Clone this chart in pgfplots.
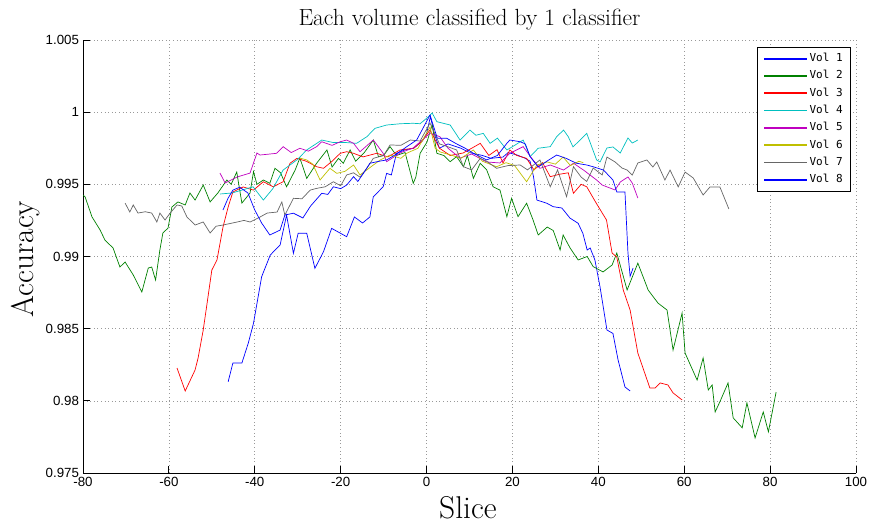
\documentclass[border=0pt]{standalone}
\usepackage{fontspec}
\usepackage{pgfplots}
\pgfplotsset{compat=1.18}
\newfontfamily\tickfont{Liberation Sans}
\newfontfamily\legfont{DejaVu Sans Mono}
\definecolor{colblue}{rgb}{0,0,1}
\definecolor{colgreen}{rgb}{0,0.5,0}
\definecolor{colred}{rgb}{1,0,0}
\definecolor{colcyan}{rgb}{0,0.75,0.75}
\definecolor{colmag}{rgb}{0.75,0,0.75}
\definecolor{colyel}{rgb}{0.75,0.75,0}
\definecolor{colgray}{rgb}{0.4,0.4,0.4}
\begin{document}
\begin{tikzpicture}
\useasboundingbox (0,0) rectangle (869bp,527bp);
\begin{axis}[
  at={(83bp,54bp)}, anchor=south west,
  width=773bp, height=433bp, scale only axis,
  xmin=-80, xmax=100, ymin=0.975, ymax=1.005,
  axis x line=bottom, axis y line=left, axis line style={-, black, line width=0.8bp},
  xtick={-80,-60,-40,-20,0,20,40,60,80,100},
  xticklabels={-80,-60,-40,-20,0,20,40,60,80,100},
  ytick={0.975,0.98,0.985,0.99,0.995,1,1.005},
  yticklabels={0.975,0.98,0.985,0.99,0.995,1,1.005},
  scaled ticks=false,
  ticklabel style={font=\tickfont\fontsize{13.3bp}{15bp}\selectfont},
  xticklabel style={yshift=-1bp},
  yticklabel style={xshift=-0.5bp},
  tick align=inside, major tick length=7bp, tick style={black, line width=0.8bp},
  grid=major, major grid style={dash pattern=on 0.8bp off 2.8bp, gray!80, line width=0.6bp},
  title={Each volume classified by 1 classifier},
  title style={at={(axis description cs:0.5,1.046)}, anchor=center, yshift=-6pt, font=\fontsize{23.4bp}{27bp}\selectfont},
  xlabel={Slice}, ylabel={Accuracy},
  xlabel style={at={(axis description cs:0.498,-0.081)}, anchor=center, font=\fontsize{31.5bp}{36bp}\selectfont},
  ylabel style={at={(axis description cs:-0.0745,0.494)}, anchor=center, font=\fontsize{31.5bp}{36bp}\selectfont},
  every axis plot/.append style={line width=0.7bp, no markers},
  legend cell align=left,
  legend image code/.code={\draw[#1, line width=1.8bp] (0bp,0bp) -- (43bp,0bp);},
  legend style={at={(0.872,0.984)}, anchor=north west, draw=black, font=\legfont\fontsize{11bp}{13bp}\selectfont,
    row sep=4.3bp, inner xsep=6bp, inner ysep=5bp,
    nodes={inner sep=1.5bp, text height=8bp, text depth=2bp}},
]
% Vol 1
\addplot[color=colblue] coordinates {
(-46.2,0.98132) (-45.1,0.98262) (-43.0,0.98262) (-41.5,0.98401) (-40.3,0.98537) (-38.4,0.98860) (-36.4,0.99010) (-34.1,0.99080) (-32.6,0.99287) (-31.0,0.99022) (-29.9,0.99161) (-27.9,0.99161) (-26.0,0.98918) (-24.0,0.99033) (-22.1,0.99195) (-18.6,0.99137) (-16.8,0.99274) (-14.9,0.99232) (-13.2,0.99274) (-12.4,0.99414) (-10.1,0.99483) (-9.3,0.99576) (-8.2,0.99565) (-7,0.99715) (-5.1,0.99738) (-3,0.9975) (-1,0.9980) (0,0.9985) (0.9,0.9997) (1.8,0.9985) (3,0.9975) (5,0.9978) (8,0.9975) (10,0.9972) (13,0.9970) (15,0.9968) (17.8,0.99689) (19,0.9972) (21.1,0.99703) (23,0.9968) (24.1,0.9966) (24.9,0.99553) (25.7,0.99391) (28.0,0.99369) (29.5,0.99345) (31.5,0.99336) (33.4,0.99266) (35.3,0.9923) (36.4,0.9916) (37.4,0.99045) (38.1,0.99059) (39.2,0.98976) (40.4,0.98789) (42.0,0.98491) (43.4,0.98467) (44.6,0.98283) (46.2,0.98096) (47.4,0.98068)
};
\addlegendentry{Vol 1}
% Vol 2
\addplot[color=colgreen] coordinates {
(-80,0.99426) (-79.5,0.99412) (-77.9,0.99274) (-76.0,0.99183) (-74.9,0.99114) (-73.0,0.99059) (-71.4,0.98927) (-70.2,0.98962) (-68.3,0.98872) (-66.3,0.98754) (-64.8,0.9892) (-64.0,0.98927) (-63.1,0.98837) (-62.1,0.99045) (-61.4,0.99163) (-60.2,0.99197) (-59.3,0.99343) (-57.9,0.99378) (-56.2,0.99357) (-55.1,0.9944) (-53.9,0.99391) (-52.0,0.99495) (-50.4,0.99378) (-48.6,0.9944) (-46.5,0.9953) (-45.5,0.9950) (-44.2,0.99585) (-43.0,0.9937) (-41.1,0.9944) (-40.3,0.99588) (-39.5,0.9950) (-38,0.9953) (-36.5,0.99507) (-35.3,0.99611) (-34,0.9958) (-32.6,0.99483) (-30.6,0.99599) (-29.5,0.99682) (-27.9,0.99541) (-25.6,0.99646) (-23.2,0.99738) (-22,0.9962) (-20.5,0.9968) (-19.4,0.99646) (-17.8,0.99738) (-16.5,0.9966) (-14.5,0.9972) (-12.4,0.99807) (-11.2,0.99692) (-10,0.9970) (-8.5,0.99761) (-7,0.9970) (-5,0.9972) (-3.1,0.99507) (-2.5,0.9955) (-1.5,0.99715) (0.1,0.99793) (1.3,0.99913) (2.4,0.99715) (4,0.9970) (5.5,0.99657) (7.0,0.99692) (8.6,0.99622) (9.5,0.9970) (10.9,0.99541) (12.5,0.99646) (14,0.9960) (15.5,0.99483) (17.1,0.9946) (18.7,0.99276) (19.8,0.99403) (21.3,0.99276) (23.3,0.99369) (24.8,0.99253) (26.0,0.99149) (28.1,0.99204) (29.5,0.9918) (31.1,0.99045) (31.8,0.99149) (33.4,0.9906) (35.3,0.98976) (37.4,0.99) (38.8,0.9893) (41.1,0.98893) (43.2,0.98941) (44.3,0.99024) (46.7,0.98768) (49.2,0.98954) (51.6,0.98768) (53.9,0.98677) (56.0,0.98629) (57.4,0.98352) (59.5,0.98608) (60.2,0.98331) (63.0,0.98144) (64.4,0.98297) (65.6,0.98075) (66.5,0.9811) (67.2,0.97923) (68.3,0.97993) (70.2,0.98124) (71.4,0.97882) (73.5,0.97813) (74.6,0.97986) (76.5,0.97743) (78.4,0.97923) (79.6,0.97785) (81.4,0.98061)
};
\addlegendentry{Vol 2}
% Vol 3
\addplot[color=colred] coordinates {
(-58.1,0.98227) (-56.2,0.98068) (-53.9,0.98214) (-53.2,0.98297) (-52.0,0.98491) (-50.9,0.98719) (-50.0,0.98906) (-48.8,0.98976) (-47.4,0.99204) (-46.2,0.99343) (-45.1,0.99447) (-42.7,0.99482) (-40.3,0.9946) (-38.0,0.99518) (-35.7,0.99483) (-33.4,0.99518) (-31.8,0.99646) (-30.2,0.9968) (-28,0.9966) (-25.6,0.99622) (-24.0,0.99611) (-22,0.9966) (-20.1,0.99715) (-18.6,0.99726) (-17.0,0.99715) (-14.8,0.9969) (-11.6,0.99715) (-9,0.9969) (-6.2,0.99738) (-3,0.9975) (-1,0.9980) (0.8,0.99877) (3,0.9975) (5.5,0.9970) (8.5,0.99717) (10.5,0.9975) (12.5,0.99784) (14.5,0.9970) (16.4,0.9974) (17.8,0.99648) (19.4,0.99738) (21,0.9970) (23.3,0.9968) (25,0.9960) (27,0.9965) (28.8,0.99553) (31,0.9957) (33,0.9958) (34.2,0.99438) (36,0.9950) (37.3,0.99483) (39.5,0.9937) (41.9,0.99253) (43.2,0.99024) (44.3,0.98996) (45.8,0.98768) (47.4,0.98629) (49.2,0.98331) (52.0,0.98089) (53.2,0.98089) (54.4,0.98124) (56.2,0.9811) (57.4,0.98055) (59.5,0.98006)
};
\addlegendentry{Vol 3}
% Vol 4
\addplot[color=colcyan] coordinates {
(-48.1,0.99433) (-45.3,0.9944) (-43,0.9946) (-40.4,0.99483) (-38.0,0.99391) (-35.8,0.9947) (-33.4,0.99599) (-30.2,0.99669) (-27.9,0.99738) (-24.4,0.99807) (-21.8,0.9979) (-19,0.9979) (-16.3,0.99784) (-13.9,0.9983) (-12.0,0.99888) (-9.3,0.99911) (-6,0.9992) (-3.1,0.99923) (-1.5,0.9992) (0.04,0.99958) (1.3,0.99994) (2.4,0.99934) (5.5,0.99911) (7.8,0.99807) (10.1,0.99876) (11.5,0.9984) (13.2,0.99853) (14.8,0.99784) (16.5,0.9982) (18.7,0.99738) (20.5,0.9977) (22.5,0.99807) (24.1,0.99692) (26,0.9975) (28.8,0.99761) (30.3,0.9983) (31.9,0.99876) (33,0.9983) (34.1,0.99759) (35.5,0.9980) (37.3,0.99853) (39.6,0.99669) (40.4,0.99655) (42.0,0.99752) (43.4,0.99759) (45.1,0.99717) (46.9,0.99821) (47.9,0.99786) (49.2,0.99807)
};
\addlegendentry{Vol 4}
% Vol 5
\addplot[color=colmag] coordinates {
(-48.1,0.99578) (-46.9,0.99509) (-44.1,0.99551) (-41.1,0.99578) (-39.5,0.99717) (-38.8,0.99703) (-36.5,0.9971) (-34.9,0.99715) (-33.4,0.99761) (-31.5,0.9972) (-29.5,0.9975) (-27.5,0.9973) (-25.6,0.99761) (-24.4,0.99795) (-22,0.9977) (-20.1,0.99795) (-18.6,0.99807) (-17.0,0.99784) (-15.5,0.99726) (-12.4,0.99807) (-10.1,0.99715) (-9.3,0.99657) (-6,0.9972) (-3.1,0.99752) (0.8,0.99855) (3.1,0.9983) (5,0.9975) (7.8,0.99682) (10.5,0.9971) (14.0,0.99655) (17.1,0.99648) (19.4,0.99715) (22.5,0.99761) (24.5,0.9968) (26.4,0.99611) (28.8,0.99634) (31.9,0.99599) (34.2,0.99646) (36.5,0.9960) (39.6,0.9953) (40.9,0.99495) (43.9,0.99461) (45.1,0.99516) (46.9,0.99551) (47.9,0.99509) (49.2,0.99405)
};
\addlegendentry{Vol 5}
% Vol 6
\addplot[color=colyel] coordinates {
(-29.5,0.99682) (-27.9,0.99669) (-26.5,0.9964) (-24.8,0.9953) (-22.5,0.99611) (-20.9,0.99576) (-19,0.9959) (-17.0,0.99634) (-15.5,0.99565) (-13,0.9962) (-10.8,0.99669) (-8.5,0.99703) (-6,0.9968) (-4.5,0.99717) (-2,0.9975) (0.8,0.99897) (2,0.9975) (3.2,0.99724) (6,0.9970) (8,0.9968) (10.9,0.99738) (13,0.9966) (16.3,0.99622) (18.5,0.9965) (20.5,0.9963) (23.3,0.99518) (25.7,0.99634) (28.1,0.99655) (30,0.9964) (31.8,0.99689) (33.5,0.9963) (35.5,0.9966) (36.5,0.9965)
};
\addlegendentry{Vol 6}
% Vol 7
\addplot[color=colgray] coordinates {
(-70.2,0.9937) (-69.1,0.99308) (-68.3,0.99357) (-67.2,0.99301) (-65.5,0.9931) (-64.0,0.99301) (-62.8,0.99239) (-62.1,0.99301) (-60.9,0.99253) (-59.7,0.99301) (-58.1,0.99357) (-57,0.9935) (-55.8,0.99274) (-53.9,0.99218) (-52.0,0.99239) (-50.4,0.99163) (-49,0.9921) (-47.4,0.99218) (-44.1,0.99239) (-42.5,0.9925) (-41.1,0.99239) (-39,0.9927) (-37.1,0.99301) (-34.8,0.99308) (-33.7,0.99378) (-33.0,0.99287) (-31.0,0.99403) (-29,0.9940) (-27.1,0.9946) (-25.6,0.99472) (-23.6,0.99483) (-21.7,0.99518) (-20,0.9949) (-18.6,0.99565) (-17,0.9958) (-15.5,0.9955) (-13.9,0.99611) (-12.4,0.9968) (-10,0.9970) (-8.5,0.99773) (-6,0.9977) (-3.8,0.99807) (-1.5,0.9980) (0.8,0.99925) (3,0.9978) (5,0.9976) (7.0,0.99738) (8.6,0.99622) (10.5,0.9960) (12.5,0.9968) (14,0.9966) (16.3,0.99611) (19,0.9963) (21.8,0.99634) (23.5,0.9960) (26.4,0.99669) (28.8,0.99483) (30.5,0.9960) (32.6,0.99414) (34.2,0.99622) (36,0.9955) (37.3,0.9952) (38.8,0.99613) (40.9,0.99565) (42.0,0.99689) (43.9,0.99655) (45.5,0.99613) (46.7,0.99599) (47.9,0.99564) (49.2,0.99648) (51.3,0.99669) (52.7,0.9962) (53.6,0.99655) (55.5,0.9953) (56.7,0.99599) (58.6,0.99482) (60.2,0.99585) (62.1,0.99544) (64.4,0.99426) (66.0,0.99482) (68.3,0.99482) (70.4,0.99329)
};
\addlegendentry{Vol 7}
% Vol 8
\addplot[color=colblue] coordinates {
(-47.4,0.99322) (-46.2,0.99405) (-45.1,0.9946) (-43.5,0.9948) (-41.6,0.9944) (-40.0,0.99322) (-38.4,0.99232) (-36.5,0.99149) (-34.1,0.99183) (-33.0,0.99287) (-31,0.9930) (-28.8,0.99267) (-27,0.9935) (-24.4,0.99438) (-23,0.9943) (-21.7,0.99483) (-20,0.9947) (-18.6,0.99495) (-17.0,0.99553) (-16,0.9952) (-14.7,0.99576) (-13.2,0.99646) (-11,0.9966) (-9.3,0.99669) (-7,0.9971) (-4.6,0.99761) (-2.3,0.99807) (0.8,0.9998) (2.5,0.9982) (4.7,0.99819) (7,0.9978) (9,0.9975) (10.9,0.99715) (14.0,0.99669) (16.5,0.9970) (18.7,0.99784) (19.4,0.99807) (21.8,0.99795) (23,0.9978) (24.1,0.99692) (26,0.9962) (28,0.9966) (30.3,0.99703) (32.5,0.9968) (34.9,0.99646) (37.3,0.99634) (39,0.9962) (41.2,0.99599) (43.4,0.9953) (44.3,0.99447) (46.2,0.99447) (46.9,0.99024) (47.4,0.98863) (48.1,0.9892)
};
\addlegendentry{Vol 8}
\end{axis}
\end{tikzpicture}
\end{document}
